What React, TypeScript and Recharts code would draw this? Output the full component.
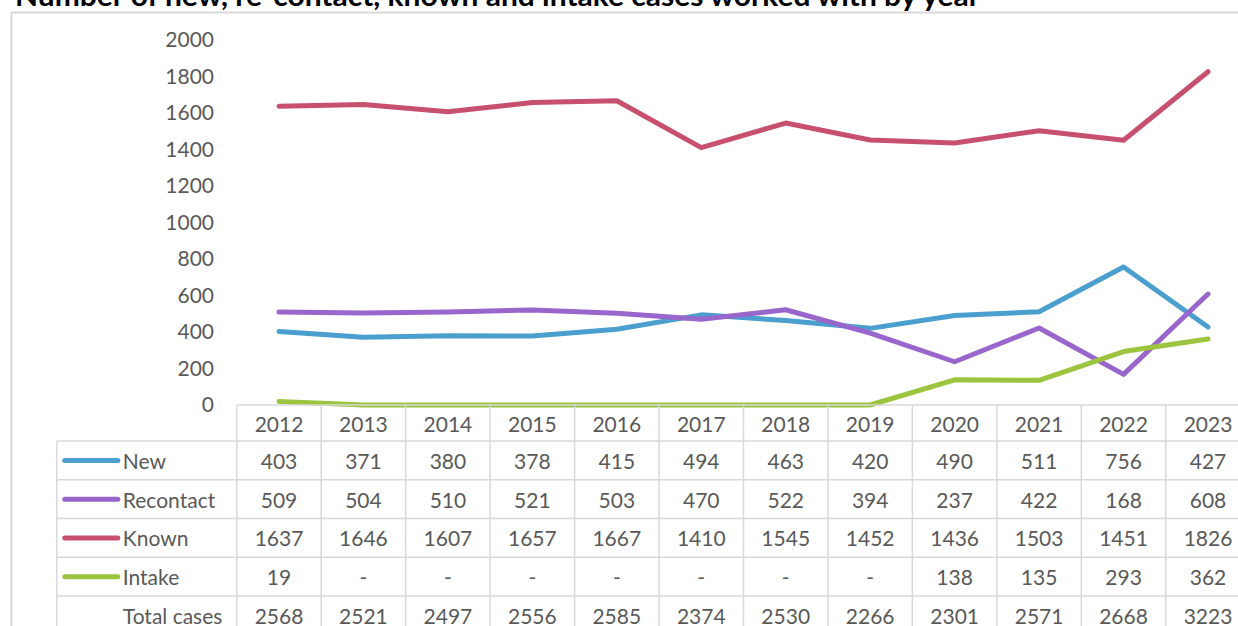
import React from "react";
import { Line, LineChart, XAxis, YAxis } from "recharts";

const years = ["2012", "2013", "2014", "2015", "2016", "2017", "2018", "2019", "2020", "2021", "2022", "2023"];
const newCases = [403, 371, 380, 378, 415, 494, 463, 420, 490, 511, 756, 427];
const recontact = [509, 504, 510, 521, 503, 470, 522, 394, 237, 422, 168, 608];
const known = [1637, 1646, 1607, 1657, 1667, 1410, 1545, 1452, 1436, 1503, 1451, 1826];
// null = "-" in the table, drawn on the zero line
const intake: (number | null)[] = [19, null, null, null, null, null, null, null, 138, 135, 293, 362];
const totalCases = [2568, 2521, 2497, 2556, 2585, 2374, 2530, 2266, 2301, 2571, 2668, 3223];
const yTicks = [0, 200, 400, 600, 800, 1000, 1200, 1400, 1600, 1800, 2000];

const series = [
  { key: "new", name: "New", color: "#4a9fcf", values: newCases },
  { key: "recontact", name: "Recontact", color: "#9966cc", values: recontact },
  { key: "known", name: "Known", color: "#c8506f", values: known },
  { key: "intake", name: "Intake", color: "#9cc43f", values: intake },
];

const data = years.map((year, i) => ({
  year,
  new: newCases[i],
  recontact: recontact[i],
  known: known[i],
  intake: intake[i] ?? 0,
}));

const FONT = "Lato, 'Open Sans', sans-serif";
const TEXT = "#595959";
const GRID = "#d9d9d9";
const HALF = 42.2;
const HEAD_H = 36;
const ROW_H = 38.75;
const NAME_W = 180;

const rows = [
  ...series.map((s) => ({ name: s.name, color: s.color as string | null, values: s.values })),
  { name: "Total cases", color: null, values: totalCases },
];

const TableTick = (props: any) => {
  const { x, y, payload } = props;
  const idx = payload.index;
  const bottom = y + HEAD_H + ROW_H * rows.length;
  const left = x - HALF;
  return (
    <g>
      <text x={x} y={y + HEAD_H / 2} textAnchor="middle" dominantBaseline="central" fill={TEXT} fontSize={21} fontFamily={FONT}>
        {payload.value}
      </text>
      {rows.map((r, i) => {
        const v = r.values[idx];
        return (
          <text key={r.name} x={x} y={y + HEAD_H + ROW_H * i + ROW_H / 2} textAnchor="middle" dominantBaseline="central" fill={TEXT} fontSize={21} fontFamily={FONT}>
            {v === null || v === undefined ? "-" : v}
          </text>
        );
      })}
      {rows.map((r, i) => (
        <line key={"h" + i} x1={left} x2={x + HALF} y1={y + HEAD_H + ROW_H * i} y2={y + HEAD_H + ROW_H * i} stroke={GRID} strokeWidth={1.5} />
      ))}
      <line x1={x + HALF} x2={x + HALF} y1={y} y2={bottom} stroke={GRID} strokeWidth={1.5} />
      {idx === 0 && (
        <g>
          <line x1={left} x2={left} y1={y} y2={bottom} stroke={GRID} strokeWidth={1.5} />
          <line x1={left - NAME_W} x2={left - NAME_W} y1={y + HEAD_H} y2={bottom} stroke={GRID} strokeWidth={1.5} />
          {rows.map((r, i) => {
            const ry = y + HEAD_H + ROW_H * i;
            return (
              <g key={"n" + i}>
                <line x1={left - NAME_W} x2={left} y1={ry} y2={ry} stroke={GRID} strokeWidth={1.5} />
                {r.color && (
                  <line x1={left - NAME_W + 8} x2={left - NAME_W + 61} y1={ry + ROW_H / 2} y2={ry + ROW_H / 2} stroke={r.color} strokeWidth={5} strokeLinecap="round" />
                )}
                <text x={left - NAME_W + 66} y={ry + ROW_H / 2} dominantBaseline="central" fill={TEXT} fontSize={21} fontFamily={FONT}>
                  {r.name}
                </text>
              </g>
            );
          })}
        </g>
      )}
    </g>
  );
};

export default function App() {
  return (
    <div style={{ position: "absolute", left: 0, top: 0, width: 1238, height: 626, overflow: "hidden", background: "#fff" }}>
      <svg width={1238} height={626} style={{ position: "absolute", left: 0, top: 0 }}>
        <rect x={11.5} y={12.5} width={1400} height={800} fill="none" stroke={GRID} strokeWidth={2} />
        <text x={15} y={6} fontSize={28} fontWeight="bold" fontFamily={FONT} fill="#000" textLength={965} lengthAdjust="spacingAndGlyphs">
          Number of new, re-contact, known and intake cases worked with by year
        </text>
      </svg>
      <div style={{ position: "absolute", left: 0, top: 0 }}>
        <LineChart width={1260} height={660} data={data} margin={{ top: 40, right: 10, left: 0, bottom: 0 }}>
          <XAxis
            dataKey="year"
            height={255}
            padding={{ left: 42, right: 42 }}
            axisLine={{ stroke: GRID, strokeWidth: 1.5 }}
            tickLine={false}
            tickSize={0}
            tickMargin={0}
            interval={0}
            tick={<TableTick />}
          />
          <YAxis
            width={237}
            domain={[0, 2000]}
            ticks={yTicks}
            axisLine={false}
            tickLine={false}
            tickSize={0}
            tickMargin={23}
            tick={{ fill: TEXT, fontSize: 21, fontFamily: FONT }}
          />
          {series.map((s) => (
            <Line
              key={s.key}
              dataKey={s.key}
              name={s.name}
              stroke={s.color}
              strokeWidth={5}
              strokeLinecap="round"
              strokeLinejoin="round"
              dot={false}
              activeDot={false}
              type="linear"
              isAnimationActive={false}
            />
          ))}
        </LineChart>
      </div>
    </div>
  );
}
